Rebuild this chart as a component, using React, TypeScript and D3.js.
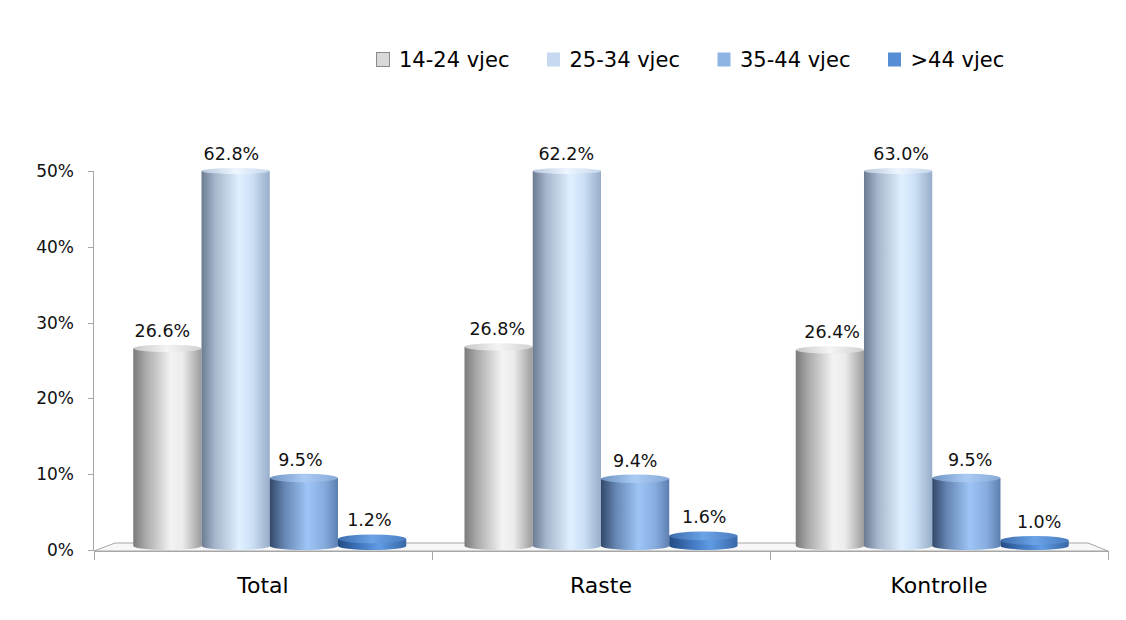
import React from "react";
import * as d3 from "d3";

const categories = ["Total", "Raste", "Kontrolle"];
const seriesNames = ["14-24 vjec", "25-34 vjec", "35-44 vjec", ">44 vjec"];
const v1424 = [26.6, 26.8, 26.4];
const v2534 = [62.8, 62.2, 63.0];
const v3544 = [9.5, 9.4, 9.5];
const v44 = [1.2, 1.6, 1.0];
const seriesValues = [v1424, v2534, v3544, v44];
const yTicks = [0, 10, 20, 30, 40, 50];

const W = 1126;
const H = 620;
const FONT = "'DejaVu Sans', sans-serif";

const legendColors = ["#d9d9d9", "#c6d9f1", "#8db4e2", "#558ed5"];
const bodyStops: [number, string][][] = [
  [[0, "#7a7a7a"], [0.18, "#a9a9a9"], [0.55, "#f3f3f3"], [0.72, "#ececec"], [1, "#9c9c9c"]],
  [[0, "#6c7b91"], [0.2, "#a6b6cc"], [0.55, "#e0f0ff"], [0.75, "#cbdff5"], [1, "#98adc8"]],
  [[0, "#33486a"], [0.22, "#6787b4"], [0.55, "#9dc5f6"], [0.8, "#86acdd"], [1, "#5c7fb0"]],
  [[0, "#234b83"], [0.3, "#3e74bb"], [0.6, "#5f9be4"], [1, "#3867a6"]],
];
const topStops: [number, string][][] = [
  [[0, "#c8c8c8"], [0.5, "#f4f4f4"], [1, "#d0d0d0"]],
  [[0, "#b8c8dc"], [0.5, "#eef6ff"], [1, "#c4d6ec"]],
  [[0, "#6f93c2"], [0.5, "#a9cbf3"], [1, "#86a9d8"]],
  [[0, "#3c6cae"], [0.5, "#6aa3e6"], [1, "#4a7cc0"]],
];

export default function App() {
  const y = d3.scaleLinear().domain([0, 50]).range([550, 171]);
  const x = d3.scaleBand<string>().domain(categories).range([94, 1108]).padding(0);
  const inner = d3.scaleBand<number>().domain([0, 1, 2, 3]).range([0, 273]).padding(0);
  const floorY = 551;
  const bottomY = 550;
  const ryAt = (yy: number) => 3 + ((yy - 171) / (550 - 171)) * 1.5;

  const bars: any[] = [];
  categories.forEach((c, ci) => {
    const bc = (x(c) as number) + x.bandwidth() / 2;
    const shift = (bc - 601) * -0.02;
    const gx = bc - 136.5 + shift;
    seriesValues.forEach((vals, si) => {
      const v = vals[ci];
      const vClamped = Math.min(v, 50);
      const x0 = gx + (inner(si) as number);
      const w = inner.bandwidth();
      const x1 = x0 + w;
      const top = Math.min(y(vClamped) - (v < 5 ? 2 : 0), 550);
      const rx = w / 2;
      const ry = ryAt(top);
      const ryb = 4;
      const cx = x0 + rx;
      const body = `M${x0},${top} L${x0},${bottomY - ryb} A${rx},${ryb} 0 0 0 ${x1},${bottomY - ryb} L${x1},${top} Z`;
      const lx = cx - 5 + (cx - 168) * 0.011;
      bars.push(
        <g key={`${ci}-${si}`}>
          <path d={body} fill={`url(#body${si})`} />
          <ellipse cx={cx} cy={top} rx={rx} ry={ry} fill={`url(#top${si})`} />
          <text x={lx} y={top - 11 - (ry - 3)} textAnchor="middle" fontSize={17.5} fontFamily={FONT} fill="#111">
            {v.toFixed(1)}%
          </text>
        </g>
      );
    });
  });

  return (
    <svg width={W} height={H} style={{ position: "absolute", left: 0, top: 0, background: "#fff" }}>
      <defs>
        {bodyStops.map((st, i) => (
          <linearGradient key={i} id={`body${i}`} x1="0" x2="1" y1="0" y2="0">
            {st.map(([o, c], j) => (
              <stop key={j} offset={o} stopColor={c} />
            ))}
          </linearGradient>
        ))}
        {topStops.map((st, i) => (
          <linearGradient key={i} id={`top${i}`} x1="0" x2="1" y1="0" y2="0">
            {st.map(([o, c], j) => (
              <stop key={j} offset={o} stopColor={c} />
            ))}
          </linearGradient>
        ))}
      </defs>
      <rect width={W} height={H} fill="#fff" />

      {seriesNames.map((n, i) => {
        const tx = 399 + i * 170.5;
        return (
          <g key={n}>
            <rect x={tx - 22.5} y={52.5} width={13} height={14} fill={legendColors[i]} stroke={i === 0 ? "#8a8a8a" : "none"} strokeWidth={1} />
            <text x={tx} y={67} fontSize={21} fontFamily={FONT} fill="#000">
              {n}
            </text>
          </g>
        );
      })}

      <polygon points={`94,${floorY} 1108,${floorY} 1088,543 115,543`} fill="#f7f7f7" stroke="#a6a6a6" strokeWidth={1} />
      <line x1={94} x2={1108} y1={floorY + 0.5} y2={floorY + 0.5} stroke="#a6a6a6" strokeWidth={1} />

      <line x1={93.5} x2={93.5} y1={171} y2={floorY} stroke="#a6a6a6" strokeWidth={1} />
      {yTicks.map((t) => (
        <g key={t}>
          <line x1={88} x2={94} y1={Math.round(y(t)) + 0.5} y2={Math.round(y(t)) + 0.5} stroke="#a6a6a6" />
          <text x={74} y={y(t) + 6} textAnchor="end" fontSize={17} fontFamily={FONT} fill="#111">
            {t}%
          </text>
        </g>
      ))}

      {[...categories.map((c) => x(c) as number), 1108].map((tx, i) => (
        <line key={i} x1={Math.round(tx) + 0.5} x2={Math.round(tx) + 0.5} y1={floorY} y2={560} stroke="#a6a6a6" />
      ))}

      {bars}

      {categories.map((c) => (
        <text key={c} x={(x(c) as number) + x.bandwidth() / 2} y={593} textAnchor="middle" fontSize={22} fontFamily={FONT} fill="#000">
          {c}
        </text>
      ))}
    </svg>
  );
}
